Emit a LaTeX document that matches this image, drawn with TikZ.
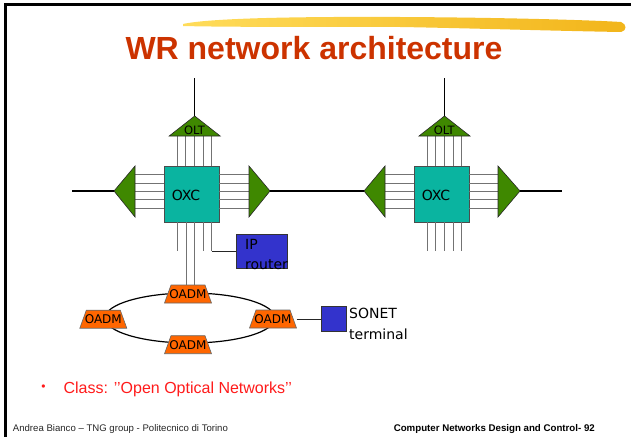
\documentclass[tikz,border=0pt]{standalone}
\usepackage{fontspec}
\setmainfont{Liberation Sans}
\newfontfamily\dv{DejaVu Sans}
\usetikzlibrary{shapes.geometric,calc}
\definecolor{titlered}{HTML}{CC3300}
\definecolor{trigreen}{HTML}{3F8800}
\definecolor{oxcteal}{HTML}{0AB4A0}
\definecolor{oadmorange}{HTML}{FF6600}
\definecolor{boxblue}{HTML}{3333CC}
\definecolor{classred}{HTML}{FF1A1A}
\definecolor{brushA}{HTML}{FFDC5A}
\definecolor{brushB}{HTML}{F2B51A}
\begin{document}
\begin{tikzpicture}[x=1pt,y=-1pt,
  tri/.style={fill=trigreen, draw=black!85, line width=0.6pt, line join=miter},
  oxcbox/.style={draw=black!70, line width=0.6pt, fill=oxcteal, minimum width=55pt, minimum height=56pt, inner sep=0pt, outer sep=0pt},
  wire/.style={draw=black!55, line width=1pt},
  link/.style={draw=black, line width=1.2pt},
  dvt/.style={font=\dv\fontsize{14}{20}\selectfont, text=black, inner sep=0pt},
  smallt/.style={font=\dv\fontsize{11.5}{13}\selectfont, text=black, inner sep=0pt},
  oadmt/.style={font=\dv\fontsize{12}{14}\selectfont, text=black, inner sep=0pt},
  oadmbox/.style={minimum width=47pt, minimum height=18pt, inner sep=0pt, outer sep=0pt},
  oadmfill/.style={fill=oadmorange, draw=black!60, line width=0.6pt},
  bluebox/.style={fill=boxblue, draw=black!80, line width=0.6pt, inner sep=0pt, outer sep=0pt},
]
\useasboundingbox (0,0) rectangle (631,436);
% frame
\draw[line width=3pt] (5,437) -- (5,5) -- (632,5);
% brush stroke
\shade[left color=brushA, right color=brushB]
  (183,24) .. controls (210,18) and (300,16.5) .. (400,17)
  .. controls (500,17.5) and (590,20) .. (621,22)
  .. controls (627,24) and (627,31) .. (621,32)
  .. controls (560,31) and (460,28) .. (400,27)
  .. controls (300,27) and (220,27) .. (183,26) -- cycle;
% title
\node[font=\bfseries\fontsize{32}{36}\selectfont, text=titlered, anchor=base, inner sep=0pt] (title) at (314,59.5) {WR network architecture};

% OXC boxes
\node[oxcbox] (oxc1) at (191.5,194) {};
\node[oxcbox] (oxc2) at (441.5,194) {};
\node[dvt] (oxc1t) at (186,195) {OXC};
\node[dvt] (oxc2t) at (436,195) {OXC};

% side triangles
\coordinate (lt1) at (114,191); \coordinate (lt1base) at (135,191);
\coordinate (rt1) at (270,191); \coordinate (rt1base) at (249,191);
\coordinate (lt2) at (364,191); \coordinate (lt2base) at (385,191);
\coordinate (rt2) at (520,191); \coordinate (rt2base) at (498,191);
\coordinate (wend1) at (72,191);
\coordinate (wend2) at (562,191);

% wires horizontal
\foreach \d in {-16.6,-8.3,0,8.3,16.6}{
  \coordinate (hy) at (0,{191.5+\d});
  \draw[wire] (lt1base |- hy) -- (oxc1.west |- hy);
  \draw[wire] (oxc1.east |- hy) -- (rt1base |- hy);
  \draw[wire] (lt2base |- hy) -- (oxc2.west |- hy);
  \draw[wire] (oxc2.east |- hy) -- (rt2base |- hy);
}

\filldraw[tri] (lt1) -- ++(21,-25) -- ++(0,51) -- cycle;
\filldraw[tri] (rt1) -- ++(-21,-25) -- ++(0,51) -- cycle;
\filldraw[tri] (lt2) -- ++(21,-25) -- ++(0,51) -- cycle;
\filldraw[tri] (rt2) -- ++(-22,-25) -- ++(0,51) -- cycle;
\draw[link] (wend1) -- (lt1);
\draw[link] (rt1) -- (lt2);
\draw[link] (rt2) -- (wend2);

% OLTs
\coordinate (olt1) at (194.7,116); \coordinate (olt1base) at (194.7,136); \coordinate (olt1top) at (194.7,78);
\coordinate (olt2) at (444.5,116); \coordinate (olt2base) at (444.5,136); \coordinate (olt2top) at (444.5,78);
\coordinate (bot2) at (444.5,251);
\coordinate (bot1) at (194.5,251);
\coordinate (oadmtop) at (194.5,285);

\foreach \d in {-17.2,-8.6,0,8.6,17.2}{
  \coordinate (vx) at ({194.5+\d},0);
  \draw[wire] (vx |- olt1base) -- (vx |- oxc1.north);
  \coordinate (vy) at ({444.5+\d},0);
  \draw[wire] (vy |- olt2base) -- (vy |- oxc2.north);
  \draw[wire] (vy |- oxc2.south) -- (vy |- bot2);
}
\filldraw[tri] (olt1) -- ++(-25.5,20) -- ++(51,0) -- cycle;
\filldraw[tri] (olt2) -- ++(-25.5,20) -- ++(51,0) -- cycle;
\draw[link] (olt1top) -- (olt1);
\draw[link] (olt2top) -- (olt2);
\node[smallt] (olt1t) at (194.5,130.5) {OLT};
\node[smallt] (olt2t) at (444.3,130.5) {OLT};

% ring
\node[draw, ellipse, line width=1.2pt, minimum width=170pt, minimum height=50pt, inner sep=0pt] (ring) at (190,318) {};

% IP router
\node[bluebox, minimum width=51pt, minimum height=34pt] (router) at (261.7,251.2) {};
\node[dvt, anchor=west, align=left] (routert) at (245,254) {IP\\router};

% bottom wires of OXC1
\coordinate (bx1) at (177.3,0); \coordinate (bx2) at (186,0); \coordinate (bx3) at (194.3,0);
\coordinate (bx4) at (203,0); \coordinate (bx5) at (211.7,0);
\draw[wire] (bx1 |- oxc1.south) -- (bx1 |- bot1);
\draw[wire] (bx4 |- oxc1.south) -- (bx4 |- bot1);
\draw[wire] (bx2 |- oxc1.south) -- (bx2 |- oadmtop);
\draw[wire] (bx3 |- oxc1.south) -- (bx3 |- oadmtop);
\draw[wire] (bx5 |- oxc1.south) -- (bx5 |- router.west);
\draw[draw=black!85, line width=1pt] (bx5 |- router.west) -- (router.west);

% OADMs
\node[oadmbox] (oadmT) at (188,294) {};
\node[oadmbox] (oadmL) at (103.3,319.2) {};
\node[oadmbox] (oadmR) at (273,319) {};
\node[oadmbox] (oadmB) at (188,344.7) {};
\foreach \n in {oadmT,oadmL,oadmR,oadmB}{
  \filldraw[oadmfill] (\n.south west) -- ($(\n.north west)+(6.5,0)$) -- ($(\n.north east)+(-6.5,0)$) -- (\n.south east) -- cycle;
  \node[oadmt] at (\n) {OADM};
}

% SONET terminal
\node[bluebox, minimum width=25pt, minimum height=25pt] (sonet) at (333.5,319.2) {};
\draw[draw=black!85, line width=1pt] (oadmR.east |- sonet.west) -- (sonet.west);
\node[dvt, anchor=west, align=left, font=\dv\fontsize{14}{21}\selectfont] (sonett) at (349,323.7) {SONET\\terminal};

% class line
\node[text=classred, font=\fontsize{12}{12}\selectfont, inner sep=0pt] (bullet) at (43.5,388) {•};
\node[text=classred, font=\fontsize{16}{18}\selectfont, anchor=base west, inner sep=0pt] (classt) at (63.3,393.7) {Class: ’’Open Optical Networks’’};

% footer
\node[font=\fontsize{9.6}{11}\selectfont, text=black!85, anchor=base west, inner sep=0pt] (footl) at (12.7,431) {Andrea Bianco – TNG group - Politecnico di Torino};
\node[font=\bfseries\fontsize{9.7}{11}\selectfont, anchor=base east, inner sep=0pt] (footr) at (595,431) {Computer Networks Design and Control- 92};
\end{tikzpicture}
\end{document}
